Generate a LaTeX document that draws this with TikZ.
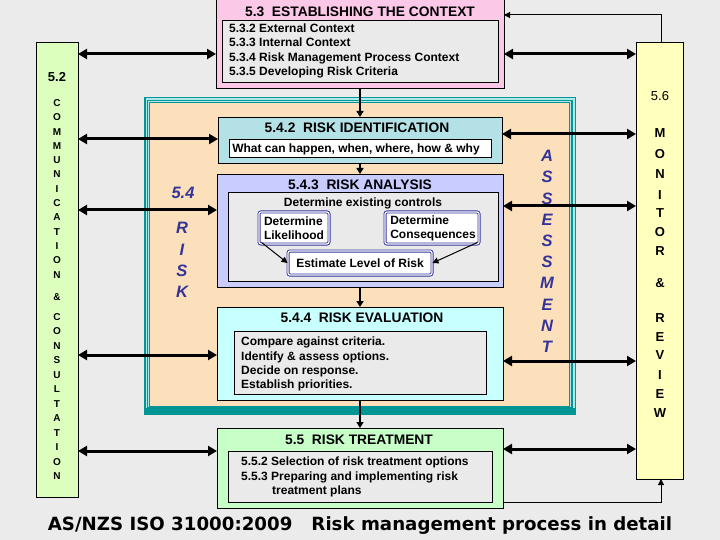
\documentclass[tikz,border=0pt]{standalone}
\usepackage{fontspec}
\setmainfont{Liberation Sans}
\newfontfamily\capfont{DejaVu Sans}
\usetikzlibrary{arrows.meta}
\definecolor{bgc}{RGB}{235,235,235}
\definecolor{pinkc}{RGB}{252,200,232}
\definecolor{grayc}{RGB}{234,234,234}
\definecolor{greenc}{RGB}{220,255,190}
\definecolor{yellowc}{RGB}{255,255,190}
\definecolor{peachc}{RGB}{252,224,188}
\definecolor{tealc}{RGB}{0,150,150}
\definecolor{ltealc}{RGB}{175,232,232}
\definecolor{idc}{RGB}{180,225,230}
\definecolor{lavc}{RGB}{200,204,255}
\definecolor{evalc}{RGB}{200,255,255}
\definecolor{treatc}{RGB}{200,255,200}
\definecolor{navyc}{RGB}{51,51,153}
\tikzset{
  box/.style={draw=black, line width=0.9pt, inner sep=0pt, outer sep=0pt},
  ttl/.style={font=\bfseries\fontsize{13.8}{16}\selectfont, inner sep=0pt},
  txt/.style={font=\bfseries\fontsize{12}{14.5}\selectfont, inner sep=0pt, anchor=base west},
  ctxt/.style={font=\bfseries\fontsize{12}{14}\selectfont, inner sep=0pt},
  vl/.style={font=\bfseries\fontsize{10}{12}\selectfont, inner sep=0pt},
  ml/.style={font=\bfseries\fontsize{13}{15}\selectfont, inner sep=0pt},
  nv/.style={font=\bfseries\itshape\fontsize{16.5}{18}\selectfont, text=navyc, inner sep=0pt},
  dbox/.style={draw=navyc, double=white, double distance=1.2pt, line width=0.9pt, rounded corners=2pt, fill=white, inner sep=0pt},
  bigdbl/.style={line width=3pt, {Triangle[length=9pt,width=10pt]}-{Triangle[length=9pt,width=10pt]}},
  midarr/.style={line width=1.8pt, -{Triangle[length=6pt,width=7pt]}},
  thinarr/.style={line width=1pt, -{Triangle[length=6pt,width=6pt]}},
}
\begin{document}
\begin{tikzpicture}[x=1pt,y=-1pt]
\useasboundingbox (0,0) rectangle (720,540);
\fill[bgc] (0,0) rectangle (720,540);

% side boxes
\node[box, fill=greenc, minimum width=42, minimum height=455] (n52) at (57,269.5) {};
\node[box, fill=yellowc, minimum width=47, minimum height=437] (n56) at (659.5,260.5) {};

% 5.3
\node[box, fill=pinkc, minimum width=288, minimum height=89] (n53) at (360,43.5) {};
\node[box, fill=grayc, minimum width=276, minimum height=62] (n53i) at (360,51) {};
\node[ttl] (t53) at (360,12) {5.3\ \ ESTABLISHING THE CONTEXT};
\node[txt] (l532) at (229,32.5) {5.3.2 External Context};
\node[txt] (l533) at (229,47) {5.3.3 Internal Context};
\node[txt] (l534) at (229,61.5) {5.3.4 Risk Management Process Context};
\node[txt] (l535) at (229,76) {5.3.5 Developing Risk Criteria};

% frame
\fill[tealc] (144,97) rectangle (576,415);
\fill[ltealc] (145.5,98.5) rectangle (574.5,407.5);
\fill[tealc] (147,100) rectangle (573,407.5);
\fill[ltealc] (148.3,101.3) rectangle (571,406.5);
\node[draw=tealc, line width=0.6pt, fill=peachc, minimum width=420, minimum height=304, inner sep=0pt] (frame) at (359.5,254.5) {};

% 5.4.2
\node[box, fill=idc, minimum width=284, minimum height=46] (n542) at (360,140) {};
\node[box, fill=white, minimum width=262, minimum height=18] (n542i) at (360,148) {};
\node[ttl] (t542) at (357,128) {5.4.2\ \ RISK IDENTIFICATION};
\node[ctxt] (w542) at (356,149.5) {What can happen, when, where, how \& why};

% 5.4.3
\node[box, fill=lavc, minimum width=286, minimum height=113] (n543) at (360,230.5) {};
\node[box, fill=grayc, minimum width=270, minimum height=89] (n543i) at (363,236.5) {};
\node[ttl] (t543) at (360,185) {5.4.3\ \ RISK ANALYSIS};
\node[ctxt] (dec) at (363,203) {Determine existing controls};
\node[dbox, minimum width=70, minimum height=32] (lik) at (294,228) {};
\node[ctxt, align=left] (likt) at (294,228.5) {Determine\\Likelihood};
\node[dbox, minimum width=94, minimum height=32] (con) at (432,228) {};
\node[ctxt, align=left] (cont) at (433,228.5) {Determine\\Consequences};
\node[dbox, minimum width=144, minimum height=24] (est) at (360,263) {};
\node[ctxt] (estt) at (360,263) {Estimate Level of Risk};
\draw[thinarr] (lik.south west) ++(3,-2) coordinate (lk1) (lk1) -- (est.west);
\draw[thinarr] (con.south east) ++(-2,-2) coordinate (cn1) (cn1) -- (est.east);

% 5.4.4
\node[box, fill=evalc, minimum width=286, minimum height=93] (n544) at (360,353.5) {};
\node[box, fill=grayc, minimum width=252, minimum height=63] (n544i) at (360,362.5) {};
\node[ttl] (t544) at (362,318) {5.4.4\ \ RISK EVALUATION};
\node[txt] (e1) at (241,345) {Compare against criteria.};
\node[txt] (e2) at (241,360) {Identify \& assess options.};
\node[txt] (e3) at (241,374) {Decide on response.};
\node[txt] (e4) at (241,388) {Establish priorities.};

% 5.5
\node[box, fill=treatc, minimum width=286, minimum height=80] (n55) at (360,468) {};
\node[box, fill=grayc, minimum width=264, minimum height=51] (n55i) at (360,476.5) {};
\node[ttl] (t55) at (359,440) {5.5\ \ RISK TREATMENT};
\node[txt] (r1) at (241,465.5) {5.5.2 Selection of risk treatment options};
\node[txt] (r2) at (241,480) {5.5.3 Preparing and implementing risk};
\node[txt] (r3) at (272,494) {treatment plans};

% vertical labels
\node[ml] (t52) at (57,77) {5.2};
\foreach \l/\y [count=\i] in {C/103,O/117.3,M/131.6,M/145.9,U/160.2,N/174.5,I/188.8,C/203.1,A/217.4,T/231.7,I/246,O/260.3,N/274.6,\&/297,C/317,O/331.5,N/346,S/360.5,U/375,L/389.5,T/404,A/418.5,T/433,I/447.5,O/462,N/476.5}
  \node[vl] (cc\i) at (57,\y) {\l};
\node[ml, font=\fontsize{13}{15}\selectfont] (t56) at (660,96) {5.6};
\foreach \l/\y [count=\i] in {M/133,O/154,N/174,I/195,T/213.5,O/232,R/251,\&/283,R/318,E/337,V/355.5,I/375,E/394,W/413}
  \node[ml] (mm\i) at (660,\y) {\l};
\foreach \l/\y [count=\i] in {A/156,S/177.2,S/198.4,E/219.6,S/240.8,S/262,M/283.2,E/304.4,N/325.6,T/346.8}
  \node[nv] (as\i) at (547,\y) {\l};
\node[nv] (t54) at (183,193) {5.4};
\foreach \l/\y [count=\i] in {R/228,I/250,S/271,K/292}
  \node[nv] (rk\i) at (182,\y) {\l};

% coordinates for connector heights
\coordinate (ya) at (0,54);
\coordinate (yt) at (0,15);
\coordinate (yl1) at (0,139);
\coordinate (yl2) at (0,210);
\coordinate (yl3) at (0,355);
\coordinate (yl4) at (0,451);
\coordinate (yr1) at (0,134);
\coordinate (yr2) at (0,206);
\coordinate (yr3) at (0,361);
\coordinate (yr4) at (0,449);
\coordinate (yb) at (0,502.5);
\coordinate (xm) at (661,0);

% top connectors
\draw[bigdbl] (n52.east |- ya) -- (n53.west |- ya);
\draw[bigdbl] (n53.east |- ya) -- (n56.west |- ya);
\draw[thinarr] (xm |- n56.north) |- (n53.east |- yt);
% left connectors
\draw[bigdbl] (n52.east |- yl1) -- (n542.west |- yl1);
\draw[bigdbl] (n52.east |- yl2) -- (n543.west |- yl2);
\draw[bigdbl] (n52.east |- yl3) -- (n544.west |- yl3);
\draw[bigdbl] (n52.east |- yl4) -- (n55.west |- yl4);
% right connectors
\draw[bigdbl] (n542.east |- yr1) -- (n56.west |- yr1);
\draw[bigdbl] (n543.east |- yr2) -- (n56.west |- yr2);
\draw[bigdbl] (n544.east |- yr3) -- (n56.west |- yr3);
\draw[bigdbl] (n55.east |- yr4) -- (n56.west |- yr4);
% vertical flow
\draw[midarr] (n53.south) -- (n542.north);
\draw[midarr] (n542.south) -- (n543.north);
\draw[midarr] (n543.south) -- (n544.north);
\draw[midarr] (n544.south) -- (n55.north);
% bottom feedback
\draw[thinarr] (n55.east |- yb) -| (xm |- n56.south);

% caption
\node[font=\capfont\bfseries\fontsize{18.2}{20}\selectfont, anchor=base, inner sep=0pt] (cap) at (360,530) {AS/NZS ISO 31000:2009~~~Risk management process in detail};
\end{tikzpicture}
\end{document}
